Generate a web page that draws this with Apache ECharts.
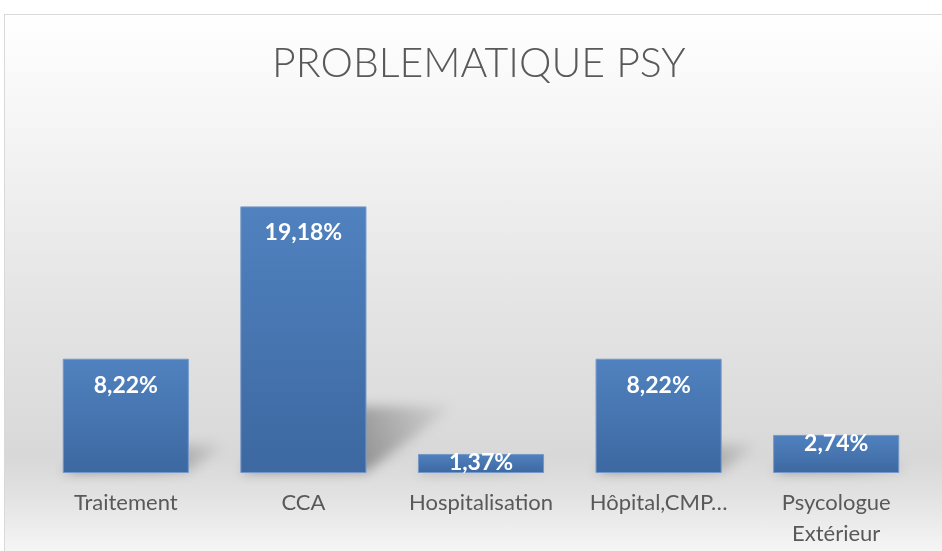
<!DOCTYPE html>
<html>
<head>
<meta charset="utf-8">
<script src="https://cdn.jsdelivr.net/npm/echarts@6/dist/echarts.min.js"></script>
<style>
  body { margin: 0; overflow: hidden; background: #ffffff; }
  #frame {
    position: absolute; left: 4px; top: 14px; width: 960px; height: 560px;
    border: 1px solid #d9d9d9;
    background: linear-gradient(to bottom, #ffffff 0%, #f4f4f4 22%, #e6e6e6 48%, #d8d8d8 79%, #e2e2e2 86%, #f4f4f4 95%, #fcfcfc 100%);
  }
  #main { position: absolute; left: 0; top: 0; width: 942px; height: 551px; }
</style>
</head>
<body>
<div id="frame"></div>
<div id="main"></div>
<script>
// donnees du graphique
var categories = ["Traitement", "CCA", "Hospitalisation", "Hôpital,CMP…", "Psycologue Extérieur"];
var values = [8.22, 19.18, 1.37, 8.22, 2.74];

var myChart = echarts.init(document.getElementById("main"), null, { renderer: "canvas" });

var barColor = new echarts.graphic.LinearGradient(0, 0, 0, 1, [
    { offset: 0, color: "#5082bf" },
    { offset: 1, color: "#3d68a1" }
]);

// ombre en perspective (comme Excel) : on dessine la forme hors champ
// et on ne garde que son ombre floue
var OFF = 1200;
function renderShadow(params, api) {
    var v = api.value(1);
    var base = api.coord([api.value(0), 0]);
    var top = api.coord([api.value(0), v]);
    var bw = api.size([1, 0])[0] * 0.71;
    var h = base[1] - top[1];
    var x0 = base[0] - bw / 2 - OFF, x1 = base[0] + bw / 2 - OFF, yb = base[1];
    var dx = h * 0.33, dy = h * 0.25;
    return {
        type: "polygon",
        shape: { points: [[x0, yb - 1], [x1, yb - 1], [x1 + dx, yb - dy], [x0 + dx, yb - dy]] },
        style: {
            fill: new echarts.graphic.LinearGradient(0, 1, 1, 0, [
                { offset: 0, color: "rgba(0,0,0,1)" },
                { offset: 0.55, color: "rgba(0,0,0,0.8)" },
                { offset: 1, color: "rgba(0,0,0,0.05)" }
            ]),
            shadowBlur: 12,
            shadowOffsetX: OFF,
            shadowColor: "rgba(0,0,0,0.38)"
        },
        silent: true
    };
}

var option = {
    animation: false,
    title: {
        text: "PROBLEMATIQUE PSY",
        left: 267,
        top: 38,
        textStyle: { fontFamily: "Lato", fontWeight: 300, fontSize: 41, color: "#595959" }
    },
    grid: { left: 37, right: 17, top: 195, bottom: 78 },
    xAxis: {
        type: "category",
        data: categories,
        axisLine: { show: false },
        axisTick: { show: false },
        axisLabel: {
            interval: 0,
            margin: 14,
            fontFamily: "Lato",
            fontSize: 22,
            lineHeight: 31,
            color: "#595959",
            formatter: function (v) { return v.replace(" ", "\n"); }
        }
    },
    yAxis: {
        type: "value",
        min: 0,
        max: 20,
        show: false,
        splitLine: { show: false }
    },
    series: [
        {
            type: "custom",
            renderItem: renderShadow,
            data: values.map(function (v, i) { return [i, v]; }),
            z: 1
        },
        {
            type: "bar",
            barWidth: "71%",
            z: 2,
            data: values.map(function (v) {
                return { value: v, label: { distance: v < 5 ? -3 : 15 } };
            }),
            itemStyle: { color: barColor, borderColor: "#7398c9", borderWidth: 1 },
            label: {
                show: true,
                position: "insideTop",
                fontFamily: "Lato",
                fontWeight: "bold",
                fontSize: 23,
                color: "#ffffff",
                formatter: function (p) { return p.value.toFixed(2).replace(".", ",") + "%"; }
            }
        }
    ]
};

myChart.setOption(option);
window.addEventListener("resize", function () {
    myChart.resize();
});
</script>
</body>
</html>
